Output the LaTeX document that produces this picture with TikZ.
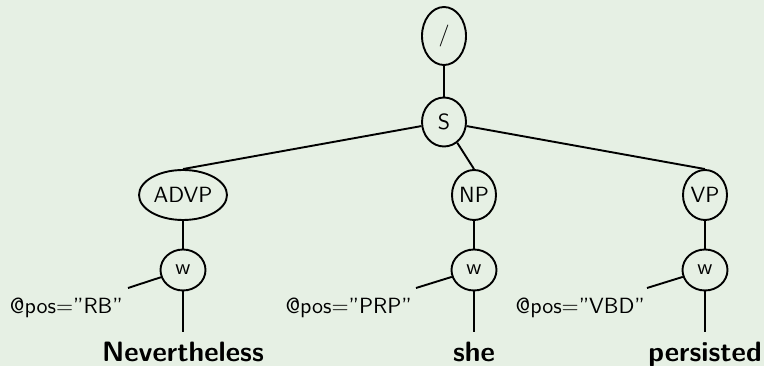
\documentclass[tikz,border=0pt]{standalone}
\usepackage{fontspec}
\setsansfont{lmsans10-regular.otf}[BoldFont=lmsans10-bold.otf]
\usetikzlibrary{shapes.geometric}
\definecolor{bgpaper}{HTML}{E6F0E4}
\tikzset{
  treenode/.style={ellipse, draw, line width=1.9pt, inner sep=0pt,
    font=\sffamily\fontsize{22}{24}\selectfont},
  edge/.style={line width=1.9pt},
  poslabel/.style={anchor=north east, inner sep=0pt,
    font=\sffamily\fontsize{22}{24}\selectfont},
  word/.style={anchor=north, inner sep=0pt,
    font=\sffamily\bfseries\fontsize{28}{30}\selectfont}
}
\begin{document}
\begin{tikzpicture}[x=1pt,y=-1pt]
  \fill[bgpaper] (0,0) rectangle (764,366);
  \useasboundingbox (0,0) rectangle (764,366);

  % root and sentence node
  \node[treenode, minimum width=44pt, minimum height=58pt] (root) at (444,36) {/};
  \node[treenode, minimum width=44pt, minimum height=49pt] (S) at (444,122) {S};

  % phrases
  \node[treenode, minimum width=88pt, minimum height=50pt] (advp) at (183,195) {ADVP};
  \node[treenode, minimum width=44pt, minimum height=50pt] (np) at (474,195) {NP};
  \node[treenode, minimum width=44pt, minimum height=50pt] (vp) at (705,195) {VP};

  % word nodes
  \node[treenode, minimum width=45pt, minimum height=41pt] (w1) at (183,270) {w};
  \node[treenode, minimum width=45pt, minimum height=41pt] (w2) at (474,270) {w};
  \node[treenode, minimum width=45pt, minimum height=41pt] (w3) at (705,270) {w};

  % attribute ends and leaf ends
  \coordinate (a1) at (128,288);
  \coordinate (a2) at (416,288);
  \coordinate (a3) at (647,288);
  \coordinate (l1) at (183,332);
  \coordinate (l2) at (474,332);
  \coordinate (l3) at (705,332);

  \node[poslabel] (p1) at (123,298) {@pos="RB"};
  \node[poslabel] (p2) at (412,298) {@pos="PRP"};
  \node[poslabel] (p3) at (645,298) {@pos="VBD"};

  \node[word] (t1) at (183,342) {Nevertheless};
  \node[word] (t2) at (474,342) {she};
  \node[word] (t3) at (705,342) {persisted};

  % connectors
  \draw[edge] (root) -- (S);
  \draw[edge] (S) -- (advp.north);
  \draw[edge] (S) -- (np.north);
  \draw[edge] (S) -- (vp.north);
  \draw[edge] (advp) -- (w1);
  \draw[edge] (np) -- (w2);
  \draw[edge] (vp) -- (w3);
  \draw[edge] (w1) -- (a1);
  \draw[edge] (w2) -- (a2);
  \draw[edge] (w3) -- (a3);
  \draw[edge] (w1) -- (l1);
  \draw[edge] (w2) -- (l2);
  \draw[edge] (w3) -- (l3);
\end{tikzpicture}
\end{document}
